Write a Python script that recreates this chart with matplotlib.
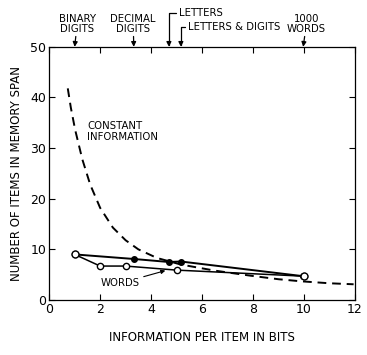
import matplotlib.pyplot as plt

# data
letters_bits = [1.0, 3.32, 4.7, 5.17, 9.97]   # binary, decimal, letters, letters&digits, 1000 words
letters_span = [9.0, 8.1, 7.5, 7.6, 4.7]
words_bits = [1.0, 2.0, 3.0, 5.0, 10.0]
words_span = [9.0, 6.7, 6.7, 5.9, 4.7]
const_bits = [0.73, 0.85, 1.02, 1.3, 1.61, 2.0, 2.5, 3.0, 3.5, 4.23, 5.17, 6.5, 7.9, 9.0, 9.86, 11.0, 11.95]
const_span = [41.8, 38.0, 33.6, 27.8, 22.8, 18.2, 14.3, 11.8, 10.0, 8.3, 7.0, 5.8, 4.8, 4.1, 3.7, 3.3, 3.1]

top_labels = ['BINARY\nDIGITS', 'DECIMAL\nDIGITS', 'LETTERS', 'LETTERS & DIGITS', '1000\nWORDS']

fs = 7.3
plt.rcParams['font.family'] = 'DejaVu Sans'

fig = plt.figure(figsize=(3.67, 3.55), dpi=100)
ax = fig.add_axes([0.134, 0.155, 0.833, 0.713])

ax.plot(const_bits, const_span, color='black', lw=1.4, ls=(0, (4.5, 3)))
ax.plot(words_bits, words_span, color='black', lw=1.1, marker='o', ms=4.5,
        mfc='white', mec='black', mew=1.0)
ax.plot(letters_bits, letters_span, color='black', lw=1.4, marker='o', ms=4,
        mfc='black', mec='black')
ax.plot(letters_bits[:1], letters_span[:1], ls='none', marker='o', ms=5,
        mfc='white', mec='black', mew=1.0)
ax.plot(words_bits[-1:], words_span[-1:], ls='none', marker='o', ms=5,
        mfc='white', mec='black', mew=1.0)

ax.set_xlim(0, 12)
ax.set_ylim(0, 50)
ax.set_xticks([0, 2, 4, 6, 8, 10, 12])
ax.set_yticks([0, 10, 20, 30, 40, 50])
ax.tick_params(direction='in', length=4, width=0.8, labelsize=9,
               top=True, right=True, pad=2)
for s in ax.spines.values():
    s.set_linewidth(0.9)

ax.set_xlabel('INFORMATION PER ITEM IN BITS', fontsize=8.5, labelpad=11)
ax.set_ylabel('NUMBER OF ITEMS IN MEMORY SPAN', fontsize=8.5, labelpad=5)

ax.text(1.5, 33.3, 'CONSTANT\nINFORMATION', fontsize=fs, ha='left', va='center',
        linespacing=1.1)
ax.annotate('WORDS', xy=(4.56, 5.8), xytext=(3.55, 3.3), fontsize=fs,
            ha='right', va='center',
            arrowprops=dict(arrowstyle='-|>', color='black', lw=0.8,
                            mutation_scale=6, shrinkA=1, shrinkB=0))

arrow = dict(arrowstyle='-|>', color='black', lw=0.9, mutation_scale=7,
             shrinkA=0, shrinkB=0)
ax.annotate(top_labels[0], xy=(letters_bits[0], 50), xytext=(1.1, 52.6),
            fontsize=fs, ha='center', va='bottom', linespacing=1.0,
            arrowprops=arrow, annotation_clip=False)
ax.annotate(top_labels[1], xy=(letters_bits[1], 50), xytext=(3.3, 52.6),
            fontsize=fs, ha='center', va='bottom', linespacing=1.0,
            arrowprops=arrow, annotation_clip=False)
ax.annotate(top_labels[2], xy=(letters_bits[2], 50), xytext=(5.1, 56.6),
            fontsize=fs, ha='left', va='center',
            arrowprops=dict(arrow, connectionstyle='angle,angleA=180,angleB=90,rad=0'),
            annotation_clip=False)
ax.annotate(top_labels[3], xy=(letters_bits[3], 50), xytext=(5.45, 54.0),
            fontsize=fs, ha='left', va='center',
            arrowprops=dict(arrow, connectionstyle='angle,angleA=180,angleB=90,rad=0'),
            annotation_clip=False)
ax.annotate(top_labels[4], xy=(letters_bits[4], 50), xytext=(10.1, 52.6),
            fontsize=fs, ha='center', va='bottom', linespacing=1.0,
            arrowprops=arrow, annotation_clip=False)

fig.savefig('out.png', dpi=100)
